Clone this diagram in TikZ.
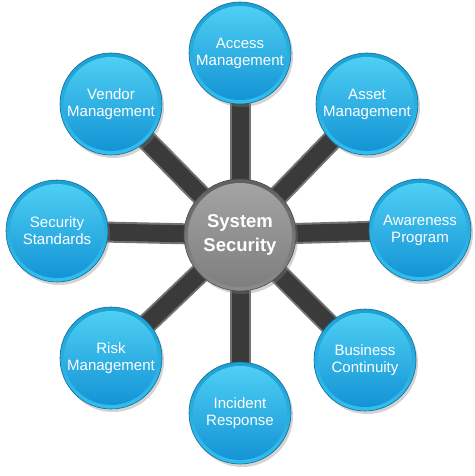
\documentclass[tikz,border=0pt]{standalone}
\usepackage{fontspec}
\setmainfont{Liberation Sans}
\usetikzlibrary{shadows,backgrounds}
\definecolor{btnTop}{RGB}{80,210,245}
\definecolor{btnBot}{RGB}{18,145,212}
\definecolor{rimTop}{RGB}{30,160,210}
\definecolor{rimBot}{RGB}{50,190,238}
\definecolor{btnLine}{RGB}{20,105,150}
\definecolor{spokeDark}{RGB}{58,58,58}
\definecolor{spokeEdge}{RGB}{115,115,115}
\definecolor{grayTop}{RGB}{165,165,165}
\definecolor{grayBot}{RGB}{125,125,125}
\definecolor{grayRimT}{RGB}{95,95,95}
\definecolor{grayRimB}{RGB}{140,140,140}
\tikzset{
  bluebtn/.style={circle, minimum size=102pt, inner sep=0pt, align=center,
    text=white, font=\fontsize{15}{17}\selectfont,
    top color=rimTop, bottom color=rimBot, draw=btnLine, line width=0.6pt,
    drop shadow={opacity=0.35, shadow xshift=2pt, shadow yshift=-3pt},
    path picture={\shade[top color=btnTop, bottom color=btnBot]
      (path picture bounding box.center) circle (47pt);}},
  hubbtn/.style={circle, minimum size=112pt, inner sep=0pt, align=center,
    text=white, font=\bfseries\fontsize{18.5}{24}\selectfont,
    top color=grayRimT, bottom color=grayRimB, draw=black!70, line width=0.6pt,
    drop shadow={opacity=0.35, shadow xshift=2pt, shadow yshift=-3pt},
    path picture={\shade[top color=grayTop, bottom color=grayBot]
      (path picture bounding box.center) circle (52pt);}},
  spokeedge/.style={line width=21pt, draw=spokeEdge},
  spokecore/.style={line width=17pt, draw=spokeDark}
}
\begin{document}
\begin{tikzpicture}[x=1pt,y=-1pt]
\useasboundingbox (0,0) rectangle (474,476);
\node[hubbtn] (hub) at (240,235) {System\\Security};
\node[bluebtn] (access) at (240,53) {Access\\Management};
\node[bluebtn] (asset) at (367,104) {Asset\\Management};
\node[bluebtn] (aware) at (420,230) {Awareness\\Program};
\node[bluebtn] (business) at (365,360) {Business\\Continuity};
\node[bluebtn] (incident) at (240,413) {Incident\\Response};
\node[bluebtn] (risk) at (111,358) {Risk\\Management};
\node[bluebtn] (standards) at (57,231) {Security\\Standards};
\node[bluebtn] (vendor) at (111,104) {Vendor\\Management};
\begin{scope}[on background layer]
  \foreach \n in {access,asset,aware,business,incident,risk,standards,vendor}{
    \draw[spokeedge] (hub.center) -- (\n.center);
  }
  \foreach \n in {access,asset,aware,business,incident,risk,standards,vendor}{
    \draw[spokecore] (hub.center) -- (\n.center);
  }
\end{scope}
\end{tikzpicture}
\end{document}
